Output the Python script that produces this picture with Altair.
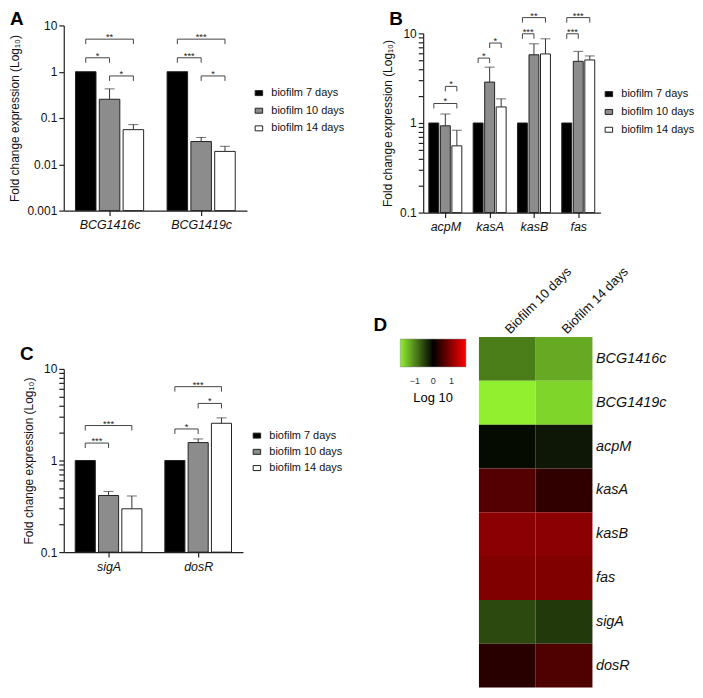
import json
import altair as alt
import pandas as pd

FONT = "Liberation Sans"

# ---------------- data ----------------
conditions = ["biofilm 7 days", "biofilm 10 days", "biofilm 14 days"]
bar_fill = ["#000000", "#8c8c8c", "#ffffff"]

# Panel A
genes_a = ["BCG1416c", "BCG1419c"]
a_d7 = [1.0, 1.0]
a_d10 = [0.254, 0.031]
a_d14 = [0.056, 0.019]
a_sd10 = [0.172, 0.007]
a_sd14 = [0.016, 0.0055]
a_br_gene = [0, 0, 0, 1, 1, 1]
a_br_from = [0, 1, 0, 0, 1, 0]
a_br_to = [1, 2, 2, 1, 2, 2]
a_br_level = [2.0, 0.81, 5.05, 2.0, 0.81, 5.05]
a_br_stars = ["*", "*", "**", "***", "*", "***"]

# Panel B
genes_b = ["acpM", "kasA", "kasB", "fas"]
b_d7 = [1.0, 1.0, 1.0, 1.0]
b_d10 = [0.93, 2.86, 5.77, 4.88]
b_d14 = [0.556, 1.51, 5.9, 5.05]
b_sd10 = [0.33, 1.34, 1.88, 1.42]
b_sd14 = [0.274, 0.35, 2.8, 0.55]
b_br_gene = [0, 0, 1, 1, 2, 2, 3, 3]
b_br_from = [0, 1, 0, 1, 0, 0, 0, 0]
b_br_to = [2, 2, 1, 2, 1, 2, 1, 2]
b_br_level = [1.65, 2.56, 5.3, 7.8, 9.9, 15.0, 9.9, 15.0]
b_br_stars = ["*", "*", "*", "*", "***", "**", "***", "***"]

# Panel C
genes_c = ["sigA", "dosR"]
c_d7 = [1.0, 1.0]
c_d10 = [0.415, 1.57]
c_d14 = [0.297, 2.55]
c_sd10 = [0.045, 0.15]
c_sd14 = [0.113, 0.37]
c_br_gene = [0, 0, 1, 1, 1]
c_br_from = [0, 0, 0, 1, 0]
c_br_to = [1, 2, 1, 2, 2]
c_br_level = [1.55, 2.41, 2.21, 4.2, 6.4]
c_br_stars = ["***", "***", "*", "*", "***"]

# Panel D (heatmap, log10 fold change)
heat_genes = ["BCG1416c", "BCG1419c", "acpM", "kasA", "kasB", "fas", "sigA", "dosR"]
heat_conds = ["Biofilm 10 days", "Biofilm 14 days"]
heat_10 = [-0.94, -1.8, -0.08, 0.60, 0.98, 0.90, -0.55, 0.28]
heat_14 = [-1.27, -1.6, -0.17, 0.34, 0.98, 0.90, -0.43, 0.56]

minor_ticks = [0.1, 0.2, 0.3, 0.4, 0.5, 0.6, 0.7, 0.8, 0.9,
               1, 2, 3, 4, 5, 6, 7, 8, 9, 10]
decade_ticks = [0.001, 0.01, 0.1, 1, 10]

YTITLE = "Fold change expression (Log\u2081\u2080)"
SQUARE = "M-0.75,-0.5H0.75V0.5H-0.75Z"


def bar_panel(genes, means, sds, br, width, height, yrange, ydomain,
              yvalues, labelled, legxy, rowpad, letter, ldx, ldy):
    rows = []
    for gi, g in enumerate(genes):
        for ci, c in enumerate(conditions):
            rows.append({"gene": g, "gi": gi, "cond": c, "ci": ci,
                         "mean": means[ci][gi],
                         "sd": (sds[ci][gi] if sds[ci] is not None else 0.0)})
    df = pd.DataFrame(rows)
    brdf = pd.DataFrame({"g": br[0], "i": br[1], "j": br[2],
                         "level": br[3], "stars": br[4]})

    n = len(genes)
    xscale = alt.Scale(domain=[-0.5, n - 0.5], nice=False, zero=False)
    yscale = alt.Scale(type="log", domain=ydomain, range=yrange, nice=False)
    lab_expr = " || ".join(f"datum.value == {v}" for v in labelled)
    xaxis = alt.Axis(values=list(range(n)), labelExpr=f"{json.dumps(genes)}[datum.value]",
                     title=None, labelFontStyle="italic", labelFontSize=12.5,
                     labelPadding=3)
    yaxis = alt.Axis(values=yvalues, format="~g", labelOverlap=False,
                     labelExpr=f"({lab_expr}) ? datum.label : ''",
                     title=YTITLE, titleFontSize=12, labelFontSize=12,
                     titlePadding=5)

    base = alt.Chart(df).transform_calculate(
        xc="datum.gi + (datum.ci - 1) * 0.26",
        xl="datum.gi + (datum.ci - 1) * 0.26 - 0.112",
        xr="datum.gi + (datum.ci - 1) * 0.26 + 0.112",
        upper="datum.mean + datum.sd",
        base=f"{ydomain[0]}",
    )
    bars = base.mark_bar(stroke="#222", strokeWidth=1).encode(
        x=alt.X("xl:Q", scale=xscale, axis=xaxis),
        x2="xr:Q",
        y=alt.Y("mean:Q", scale=yscale, axis=yaxis),
        y2="base:Q",
        fill=alt.Fill("cond:N", sort=conditions,
                      scale=alt.Scale(domain=conditions, range=bar_fill),
                      legend=alt.Legend(orient="none", legendX=legxy[0], legendY=legxy[1],
                                        title=None, symbolType=SQUARE, symbolSize=100,
                                        symbolStrokeColor="#222", symbolStrokeWidth=1,
                                        labelFontSize=11, labelFont=FONT, labelColor="#111",
                                        rowPadding=rowpad, labelOffset=7, padding=0)),
    )
    err = base.transform_filter("datum.sd > 0")
    err_line = err.mark_rule(color="#333", strokeWidth=1).encode(
        x="xc:Q", y="mean:Q", y2="upper:Q")
    err_cap = err.mark_tick(color="#333", orient="horizontal", size=10, thickness=1).encode(
        x="xc:Q", y="upper:Q")

    bb = alt.Chart(brdf).transform_calculate(
        xa="datum.g + (datum.i - 1) * 0.26",
        xb="datum.g + (datum.j - 1) * 0.26",
    ).transform_calculate(xm="(datum.xa + datum.xb) / 2")
    br_line = bb.mark_rule(color="#444", strokeWidth=1).encode(
        x="xa:Q", x2="xb:Q", y="level:Q")
    br_end = bb.transform_fold(["xa", "xb"], as_=["end", "xe"]).mark_rule(
        color="#444", strokeWidth=1, y2Offset=5).encode(
        x="xe:Q", y="level:Q", y2="level:Q")
    br_txt = bb.mark_text(fontSize=9.5, font=FONT, color="#222", baseline="alphabetic",
                          dy=1).encode(x="xm:Q", y="level:Q", text="stars:N")

    return alt.layer(bars, err_line, err_cap, br_line, br_end, br_txt).properties(
        width=width, height=height,
        title=alt.Title(letter, anchor="start", frame="group", dx=ldx, dy=ldy,
                        fontSize=19, fontWeight="bold", font=FONT, color="#000", offset=0),
    )


panel_a = bar_panel(genes_a, [a_d7, a_d10, a_d14], [None, a_sd10, a_sd14],
                    [a_br_gene, a_br_from, a_br_to, a_br_level, a_br_stars],
                    184, 186, [186, 0], [0.001, 10], decade_ticks, decade_ticks,
                    (190.5, 62.5), 5.7, "A", -54, 10)
panel_b = bar_panel(genes_b, [b_d7, b_d10, b_d14], [None, b_sd10, b_sd14],
                    [b_br_gene, b_br_from, b_br_to, b_br_level, b_br_stars],
                    178, 188, [188, 8], [0.1, 10], minor_ticks, [0.1, 1, 10],
                    (181, 63.5), 5.9, "B", -34, 18)
panel_c = bar_panel(genes_c, [c_d7, c_d10, c_d14], [None, c_sd10, c_sd14],
                    [c_br_gene, c_br_from, c_br_to, c_br_level, c_br_stars],
                    180, 184, [184, 0], [0.1, 10], minor_ticks, [0.1, 1, 10],
                    (188.5, 61.5), 4.3, "C", -44, 1)

hrows = []
for gi, g in enumerate(heat_genes):
    hrows.append({"gene": g, "cond": heat_conds[0], "value": heat_10[gi]})
    hrows.append({"gene": g, "cond": heat_conds[1], "value": heat_14[gi]})
hdf = pd.DataFrame(hrows)

panel_d = alt.Chart(hdf).mark_rect().encode(
    x=alt.X("cond:N", sort=heat_conds,
            scale=alt.Scale(range=[56, 170], paddingInner=0, paddingOuter=0),
            axis=alt.Axis(orient="top", labelAngle=-45, labelAlign="left",
                          labelBaseline="middle", title=None, ticks=False, domain=False,
                          labelFontSize=13, labelPadding=6, labelColor="#111")),
    y=alt.Y("gene:N", sort=heat_genes,
            scale=alt.Scale(paddingInner=0, paddingOuter=0),
            axis=alt.Axis(orient="right", title=None, ticks=False, domain=False,
                          labelFontStyle="italic", labelFontSize=14.5, labelPadding=3,
                          labelColor="#111")),
    color=alt.Color("value:Q",
                    scale=alt.Scale(domain=[-1.8, 0, 1.8],
                                    range=["#90f030", "#000000", "#ff0000"],
                                    interpolate="rgb"),
                    legend=alt.Legend(orient="none", direction="horizontal",
                                      legendX=-23, legendY=2, gradientLength=66,
                                      gradientThickness=28, values=[-1, 0, 1],
                                      title="Log 10", titleOrient="bottom",
                                      titleAnchor="middle", titleFontSize=13,
                                      titleFontWeight="normal", titleFont=FONT,
                                      titlePadding=6, labelFontSize=9, labelFont=FONT,
                                      labelColor="#333", labelOffset=10,
                                      gradientStrokeColor="#888", gradientStrokeWidth=0.5,
                                      padding=0)),
).properties(
    width=170, height=352,
    title=alt.Title("D", anchor="start", frame="group", dx=-50, dy=70,
                    fontSize=19, fontWeight="bold", font=FONT, color="#000", offset=0),
)

left = alt.vconcat(panel_a, panel_c, spacing=159, bounds="flush").resolve_scale(
    fill="independent").resolve_legend(fill="independent")
right = alt.vconcat(panel_b, panel_d, spacing=125, bounds="flush").resolve_scale(
    fill="independent", color="independent").resolve_legend(
    fill="independent", color="independent")

chart = alt.hconcat(left, right, spacing=361, bounds="flush", padding=0).resolve_scale(
    fill="independent", color="independent").resolve_legend(
    fill="independent", color="independent").configure(font=FONT).configure_view(
    stroke=None).configure_axis(
    domainColor="#222", tickColor="#222", labelColor="#111", titleColor="#111",
    labelFont=FONT, titleFont=FONT, grid=False, tickSize=5, domainWidth=1.2,
    tickWidth=1.2, titleFontWeight="normal")

chart.save("out.html", embed_options={"renderer": "svg", "actions": False})
